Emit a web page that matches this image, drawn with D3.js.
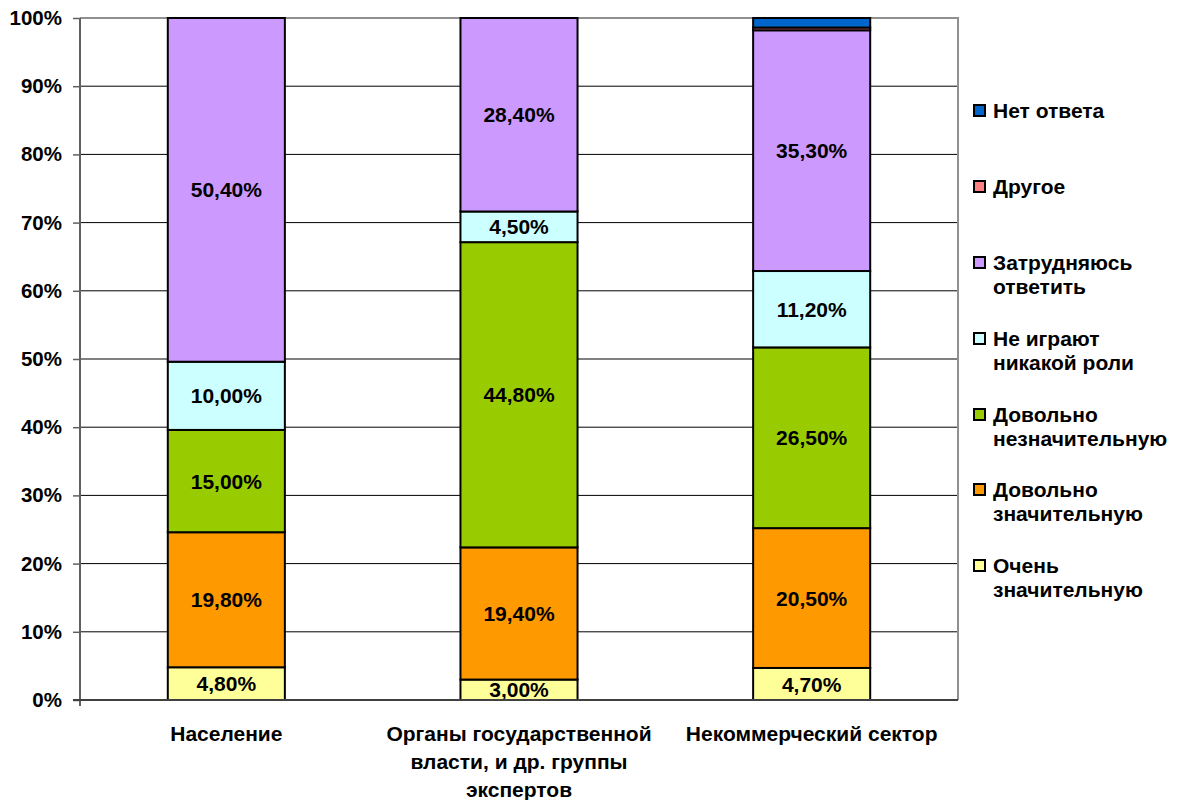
<!DOCTYPE html>
<html><head><meta charset="utf-8">
<script src="https://cdn.jsdelivr.net/npm/d3@7"></script>
<style>body{margin:0;background:#fff}svg{display:block}text{font-family:"Liberation Sans",Arial,sans-serif;font-weight:bold;fill:#000}</style>
</head><body>
<script>
const categories = [["Население"], ["Органы государственной","власти, и др. группы","экспертов"], ["Некоммерческий сектор"]];
const seriesNames = ["Очень значительную","Довольно значительную","Довольно незначительную","Не играют никакой роли","Затрудняюсь ответить","Другое","Нет ответа"];
const legendLines = [["Очень","значительную"],["Довольно","значительную"],["Довольно","незначительную"],["Не играют","никакой роли"],["Затрудняюсь","ответить"],["Другое"],["Нет ответа"]];
const colors = ["#FFFF99","#FF9900","#99CC00","#CCFFFF","#CC99FF","#FF8080","#0066CC"];
const veryHigh = [4.8, 3.0, 4.7];
const fairlyHigh = [19.8, 19.4, 20.5];
const fairlyLow = [15.0, 44.8, 26.5];
const noRole = [10.0, 4.5, 11.2];
const hardToSay = [50.4, 28.4, 35.3];
const other = [0, 0, 0.4];
const noAnswer = [0, 0, 1.4];
const labelText = [["4,80%","19,80%","15,00%","10,00%","50,40%"],["3,00%","19,40%","44,80%","4,50%","28,40%"],["4,70%","20,50%","26,50%","11,20%","35,30%"]];
const yTicks = [0,10,20,30,40,50,60,70,80,90,100];

const series = [veryHigh, fairlyHigh, fairlyLow, noRole, hardToSay, other, noAnswer];
const W=1183,H=800, L=80, R=958, T=18, B=700;
const svg = d3.select("body").append("svg").attr("width",W).attr("height",H);
const x = d3.scaleBand().domain(d3.range(3)).range([L,R]).padding(0);
const y = d3.scaleLinear().domain([0,100]).range([B,T]);
const barW = x.bandwidth()*0.4;

// gridlines
svg.append("g").selectAll("line").data(yTicks.slice(1,-1)).join("line")
  .attr("x1",L).attr("x2",R).attr("y1",d=>y(d)).attr("y2",d=>y(d)).attr("stroke","#000").attr("stroke-width",1);
// border top/right
svg.append("path").attr("d",`M${L},${T}H${R}V${B}`).attr("fill","none").attr("stroke","#909090").attr("stroke-width",2);

// stacked data normalized
const rows = d3.range(3).map(i=>{
  const vals = series.map(s=>s[i]); const tot = d3.sum(vals);
  let acc=0; return vals.map((v,k)=>{const y0=acc/tot*100; acc+=v; return {k,i,y0,y1:acc/tot*100,v};});
});
const bars = svg.append("g");
rows.forEach((r,i)=>{
  r.forEach(seg=>{
    if(seg.v<=0) return;
    bars.append("rect").attr("x",x(i)+(x.bandwidth()-barW)/2).attr("width",barW)
      .attr("y",y(seg.y1)).attr("height",y(seg.y0)-y(seg.y1))
      .attr("fill",colors[seg.k]).attr("stroke","#000").attr("stroke-width",2);
  });
});
rows.forEach((r,i)=>{
  r.forEach(seg=>{
    if(seg.k>4) return;
    svg.append("text").attr("x",x(i)+x.bandwidth()/2).attr("y",(y(seg.y0)+y(seg.y1))/2)
      .attr("text-anchor","middle").attr("dy","0.36em").style("font-size","21px").text(labelText[i][seg.k]);
  });
});

// y axis
const ya = svg.append("g").attr("transform",`translate(${L},0)`)
  .call(d3.axisLeft(y).tickValues(yTicks).tickFormat(d=>d+"%").tickSize(7).tickPadding(11));
ya.select(".domain").attr("stroke","#606060").attr("stroke-width",2).attr("d",`M0,${T}V${B+6}`);
ya.selectAll(".tick line").attr("stroke","#606060").attr("stroke-width",1.5);
ya.selectAll("text").style("font-size","20.5px").style("font-family","Liberation Sans, Arial, sans-serif").style("font-weight","bold");
// x axis baseline
svg.append("line").attr("x1",L-7).attr("x2",R).attr("y1",B).attr("y2",B).attr("stroke","#404040").attr("stroke-width",2);

// category labels
categories.forEach((lines,i)=>{
  const t = svg.append("text").attr("x",x(i)+x.bandwidth()/2).attr("y",733).attr("text-anchor","middle").style("font-size","21px");
  lines.forEach((ln,j)=>t.append("tspan").attr("x",x(i)+x.bandwidth()/2).attr("dy",j===0?"0.36em":"28px").text(ln));
});

// legend (top to bottom reversed)
const legY = [565,489,414,338,262,186,110];
const lg = svg.append("g");
legendLines.forEach((lines,k)=>{
  lg.append("rect").attr("x",974).attr("y",legY[k]-5).attr("width",11).attr("height",11)
    .attr("fill",colors[k]).attr("stroke","#000").attr("stroke-width",2);
  const t = lg.append("text").attr("x",993).attr("y",legY[k]).style("font-size","21px");
  lines.forEach((ln,j)=>t.append("tspan").attr("x",993).attr("dy",j===0?"0.36em":"24px").text(ln));
});
</script>
</body></html>
